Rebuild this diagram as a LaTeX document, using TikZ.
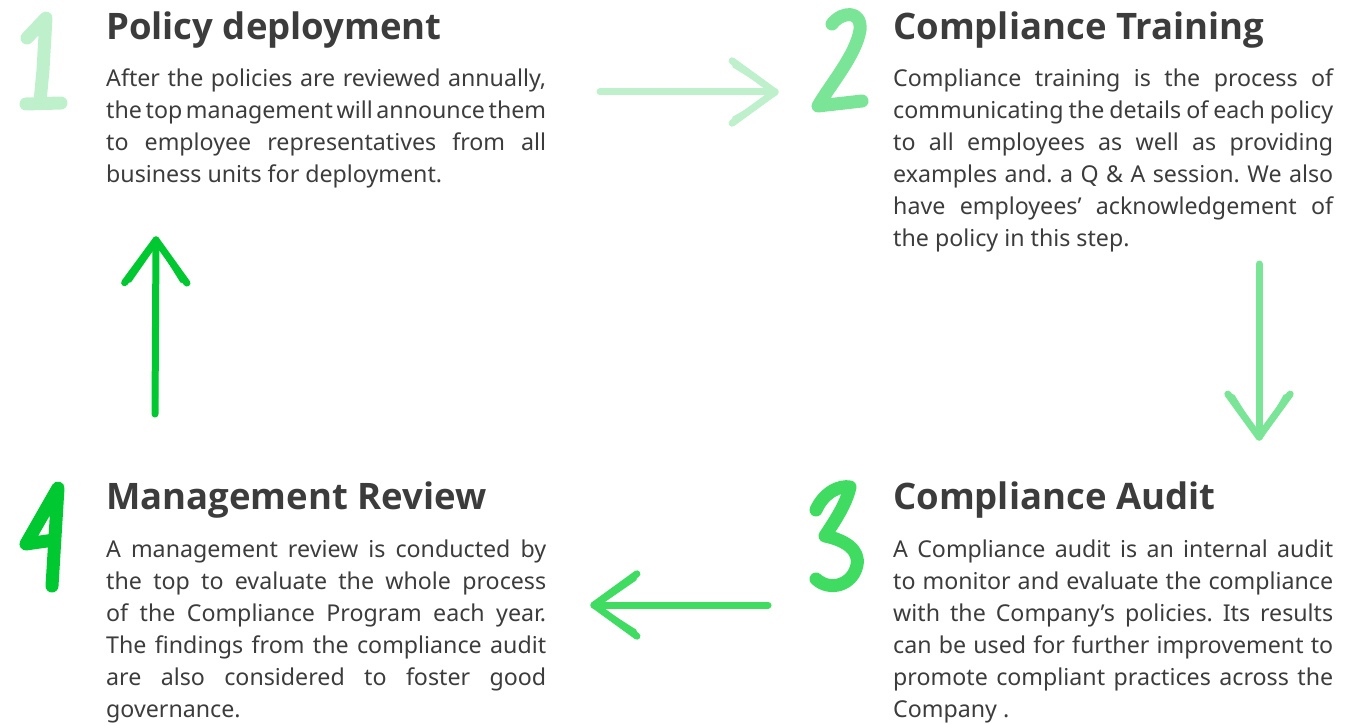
\documentclass[tikz,border=0pt]{standalone}
\usepackage{fontspec}
\setmainfont{Noto Sans}
\IfFontExistsTF{Open Sans Bold}
  {\newfontfamily\headfont{Open Sans Bold}}
  {\newfontfamily\headfont{Noto Sans}[FakeBold=4]}
\usetikzlibrary{calc}

\definecolor{ink}{HTML}{3C3C3C}
\definecolor{mintA}{HTML}{BEF0CC}
\definecolor{mintB}{HTML}{7AE597}
\definecolor{mintC}{HTML}{40DC62}
\definecolor{mintD}{HTML}{00C830}

% spaces that may shrink a lot, no hyphenation
\newcommand{\tightpar}{\frenchspacing \spaceskip=0.26em plus 0.6em minus 0.22em
  \hyphenpenalty=10000 \exhyphenpenalty=10000 \relax}

\tikzset{
  heading/.style={anchor=base west, inner sep=0pt, text=ink,
    font=\fontsize{36.5}{40}\selectfont\headfont},
  body/.style={anchor=base west, inner sep=0pt, text=ink, text width=440pt,
    align=justify, font=\fontsize{23.2}{32}\selectfont},
  digit/.style={line width=13pt, line cap=round, line join=round},
  brush/.style={line width=7pt, line cap=round, line join=round},
}

% hand drawn arrow between two named coordinates: #1 from, #2 to, #3 colour
\newcommand{\sketcharrow}[3]{
  \draw[brush, #3] (#1) -- (#2);
  \draw[line width=3pt, line cap=round, #3] ($(#1)!0.1!(#2)+(1.5,1.5)$) -- ($(#2)+(1.5,1.5)$);
  \draw[brush, #3] (#2) -- ($(#2)!53pt!36:(#1)$);
  \draw[brush, #3] (#2) -- ($(#2)!53pt!-36:(#1)$);
  \draw[line width=3pt, line cap=round, #3] ($(#2)+(1,2)$) -- ($(#2)!49pt!32:(#1)$);
  \draw[line width=3pt, line cap=round, #3] ($(#2)+(2,1)$) -- ($(#2)!49pt!-32:(#1)$);
}

\begin{document}
\begin{tikzpicture}[x=1pt, y=-1pt]
  \useasboundingbox (0,0) rectangle (1366,725);

  % step 1
  \draw[digit, mintA] (27,38) -- (46,18) -- (43,70) -- (40,102);
  \draw[digit, mintA] (26,104) -- (61,103);
  \node[heading] (h1) at (106,40) {Policy deployment};
  \node[body] (t1) at (106,87) {\tightpar After the policies are reviewed annually,\linebreak
    the top management will announce them\linebreak
    to employee representatives from all\linebreak
    business units for deployment.};

  % step 2
  \draw[digit, mintB] (832,24) .. controls (842,11) and (862,10) .. (860,30)
    .. controls (856,55) and (830,85) .. (818,106) -- (862,101);
  \node[heading] (h2) at (893,40) {Compliance Training};
  \node[body] (t2) at (893,87) {\tightpar Compliance training is the process of\linebreak
    communicating the details of each policy\linebreak
    to all employees as well as providing\linebreak
    examples and. a Q \& A session. We also\linebreak
    have employees’ acknowledgement of\linebreak
    the policy in this step.};

  % step 3
  \draw[digit, mintC] (816,510) .. controls (824,492) and (840,485) .. (850,487)
    .. controls (846,505) and (834,522) .. (825,536)
    .. controls (845,540) and (860,550) .. (857,565)
    .. controls (853,585) and (830,592) .. (816,579);
  \node[heading] (h3) at (893,509) {Compliance Audit};
  \node[body] (t3) at (893,557) {\tightpar A Compliance audit is an internal audit\linebreak
    to monitor and evaluate the compliance\linebreak
    with the Company’s policies. Its results\linebreak
    can be used for further improvement to\linebreak
    promote compliant practices across the\linebreak
    Company .};

  % step 4
  \draw[digit, mintD] (54,540) -- (26,544) -- (58,488) -- (52,586);
  \node[heading] (h4) at (106,509) {Management Review};
  \node[body] (t4) at (106,557) {\tightpar A management review is conducted by\linebreak
    the top to evaluate the whole process\linebreak
    of the Compliance Program each year.\linebreak
    The findings from the compliance audit\linebreak
    are also considered to foster good\linebreak
    governance.};

  % arrows round the cycle
  \coordinate (a12) at (600,92);
  \coordinate (b12) at (775,92);
  \coordinate (a23) at (1259,264);
  \coordinate (b23) at (1259,437);
  \coordinate (a34) at (768,605);
  \coordinate (b34) at (594,605);
  \coordinate (a41) at (155,414);
  \coordinate (b41) at (156,240);
  \sketcharrow{a12}{b12}{mintA}
  \sketcharrow{a23}{b23}{mintB}
  \sketcharrow{a34}{b34}{mintC}
  \sketcharrow{a41}{b41}{mintD}
\end{tikzpicture}
\end{document}
